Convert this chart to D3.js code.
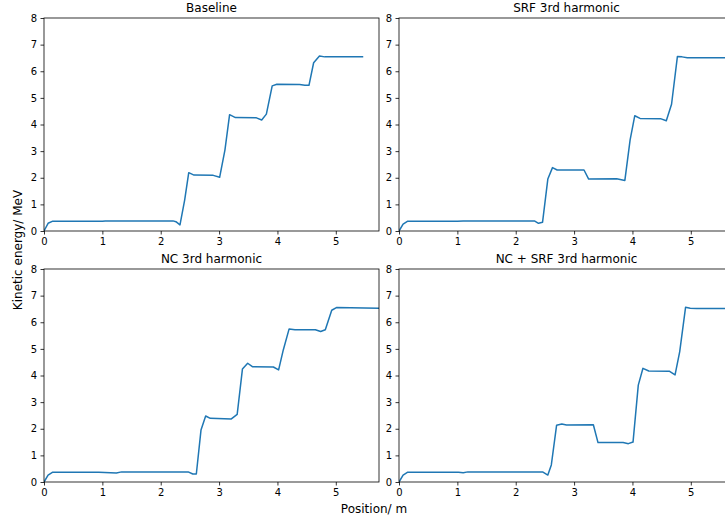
<!DOCTYPE html>
<html>
<head>
<meta charset="utf-8">
<script src="https://cdn.jsdelivr.net/npm/d3@7"></script>
<style>
  html, body { margin: 0; padding: 0; background: #fff; }
  svg { display: block; }
  text { font-family: "DejaVu Sans", sans-serif; fill: #000; }
</style>
</head>
<body>
<svg id="chart" width="725" height="520"></svg>
<script>
// Kinetic energy along the beamline for four cavity configurations
const baselinePos = [0, 0.07, 0.15, 1.0, 1.05, 2.21, 2.26, 2.33, 2.41, 2.48, 2.57, 2.90, 3.01, 3.10, 3.18, 3.28, 3.64, 3.73, 3.81, 3.91, 3.99, 4.38, 4.47, 4.54, 4.62, 4.72, 4.81, 5.47];
const baselineKE  = [0, 0.29, 0.37, 0.37, 0.38, 0.38, 0.35, 0.23, 1.16, 2.19, 2.10, 2.09, 2.02, 3.04, 4.37, 4.26, 4.25, 4.17, 4.39, 5.45, 5.51, 5.50, 5.47, 5.47, 6.32, 6.57, 6.54, 6.54];

const srfPos = [0, 0.07, 0.15, 1.0, 1.1, 2.32, 2.39, 2.46, 2.55, 2.63, 2.71, 3.17, 3.25, 3.73, 3.87, 3.96, 4.04, 4.13, 4.48, 4.58, 4.67, 4.77, 4.85, 4.94, 5.74];
const srfKE  = [0, 0.26, 0.37, 0.37, 0.38, 0.38, 0.29, 0.33, 1.95, 2.38, 2.29, 2.29, 1.95, 1.96, 1.90, 3.42, 4.33, 4.23, 4.22, 4.14, 4.76, 6.55, 6.54, 6.51, 6.51];

const ncPos = [0, 0.07, 0.15, 0.94, 1.24, 1.33, 2.47, 2.55, 2.61, 2.69, 2.77, 2.85, 3.21, 3.31, 3.40, 3.49, 3.57, 3.93, 4.02, 4.10, 4.20, 4.30, 4.65, 4.74, 4.82, 4.93, 5.01, 5.74];
const ncKE  = [0, 0.26, 0.37, 0.37, 0.34, 0.38, 0.38, 0.30, 0.30, 1.95, 2.48, 2.39, 2.37, 2.54, 4.24, 4.46, 4.33, 4.32, 4.21, 4.96, 5.75, 5.72, 5.72, 5.65, 5.72, 6.45, 6.55, 6.53];

const ncSrfPos = [0, 0.07, 0.15, 1.02, 1.10, 1.18, 2.46, 2.55, 2.61, 2.70, 2.79, 2.87, 3.33, 3.41, 3.84, 3.93, 4.01, 4.10, 4.18, 4.28, 4.63, 4.73, 4.81, 4.91, 4.99, 5.10, 5.74];
const ncSrfKE  = [0, 0.26, 0.37, 0.37, 0.35, 0.38, 0.38, 0.26, 0.64, 2.13, 2.18, 2.14, 2.15, 1.48, 1.48, 1.44, 1.50, 3.64, 4.27, 4.17, 4.16, 4.02, 4.90, 6.56, 6.53, 6.52, 6.52];

const panelTitles = ["Baseline", "SRF 3rd harmonic", "NC 3rd harmonic", "NC + SRF 3rd harmonic"];
const xTicks = [0, 1, 2, 3, 4, 5];
const yTicks = [0, 1, 2, 3, 4, 5, 6, 7, 8];
const xLabel = "Position/ m";
const yLabel = "Kinetic energy/ MeV";

const series = [
  { pos: baselinePos, ke: baselineKE },
  { pos: srfPos, ke: srfKE },
  { pos: ncPos, ke: ncKE },
  { pos: ncSrfPos, ke: ncSrfKE }
];

const svg = d3.select("#chart");
const panelW = 335, panelH = 213;
const origins = [[44, 18], [399, 18], [44, 269], [399, 269]];

const x = d3.scaleLinear().domain([0, 5.74]).range([0, panelW]);
const y = d3.scaleLinear().domain([0, 8]).range([panelH, 0]);

const line = d3.line().x(d => x(d[0])).y(d => y(d[1]));

series.forEach((s, i) => {
  const [ox, oy] = origins[i];
  const g = svg.append("g").attr("transform", `translate(${ox},${oy})`);

  const clipId = "clip" + i;
  g.append("clipPath").attr("id", clipId)
    .append("rect").attr("x", 0).attr("y", -2).attr("width", panelW).attr("height", panelH + 4);

  const pts = s.pos.map((p, k) => [p, s.ke[k]]);
  g.append("path")
    .datum(pts)
    .attr("clip-path", `url(#${clipId})`)
    .attr("fill", "none")
    .attr("stroke", "#1f77b4")
    .attr("stroke-width", 1.5)
    .attr("stroke-linejoin", "round")
    .attr("d", line);

  const xAxis = g.append("g").attr("transform", `translate(0,${panelH})`)
    .call(d3.axisBottom(x).tickValues(xTicks).tickFormat(d3.format("d")).tickSize(3.5).tickPadding(3.5));
  const yAxis = g.append("g")
    .call(d3.axisLeft(y).tickValues(yTicks).tickFormat(d3.format("d")).tickSize(3.5).tickPadding(3.5));
  [xAxis, yAxis].forEach(a => {
    a.select(".domain").remove();
    a.selectAll("line").attr("stroke", "#000").attr("stroke-width", 0.8);
    a.selectAll("text").attr("font-size", 10).attr("font-family", "DejaVu Sans, sans-serif").attr("fill", "#000");
  });

  // frame of the axes
  g.append("rect")
    .attr("x", 0).attr("y", 0).attr("width", panelW).attr("height", panelH)
    .attr("fill", "none").attr("stroke", "#000").attr("stroke-width", 0.8);

  g.append("text")
    .attr("x", panelW / 2).attr("y", -6)
    .attr("text-anchor", "middle")
    .attr("font-size", 12)
    .text(panelTitles[i]);
});

svg.append("text")
  .attr("x", 374).attr("y", 513)
  .attr("text-anchor", "middle")
  .attr("font-size", 12)
  .text(xLabel);

svg.append("text")
  .attr("transform", "translate(22,250) rotate(-90)")
  .attr("text-anchor", "middle")
  .attr("font-size", 12)
  .text(yLabel);
</script>
</body>
</html>
